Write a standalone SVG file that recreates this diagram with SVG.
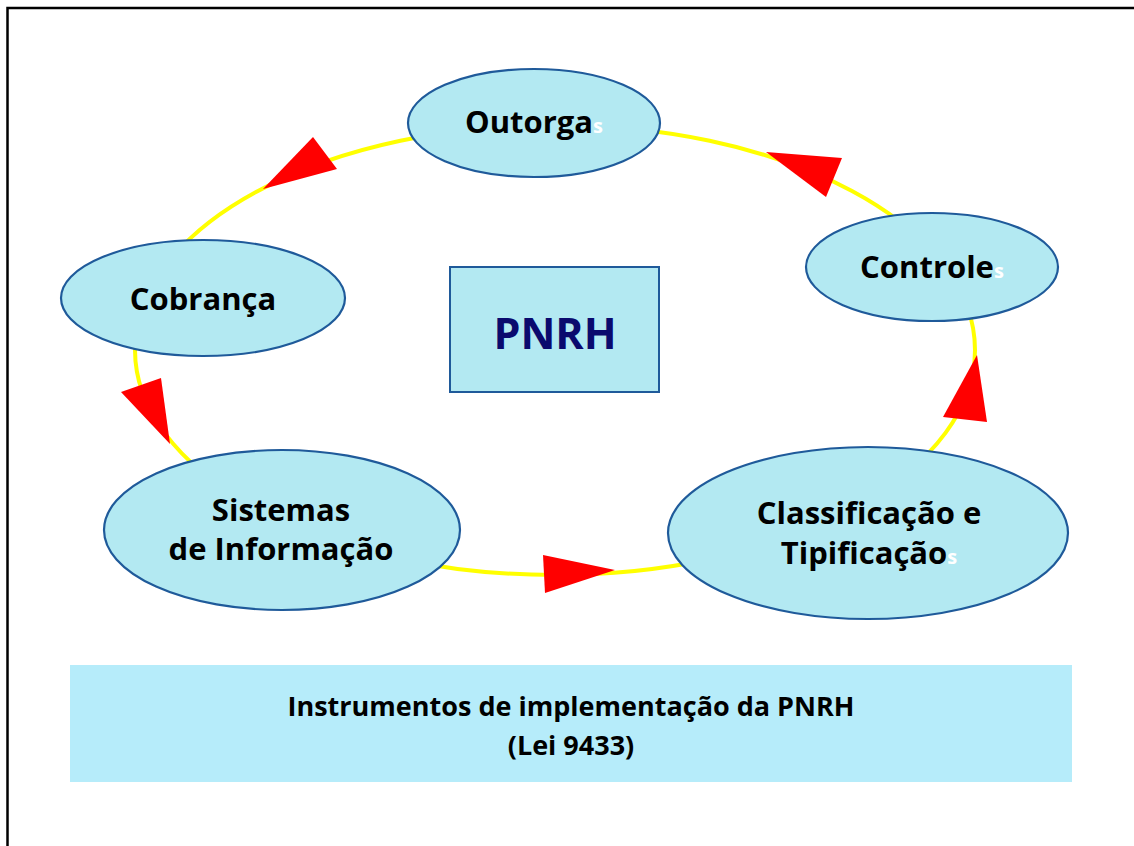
<svg xmlns="http://www.w3.org/2000/svg" width="1134" height="846" viewBox="0 0 1134 846">
<style>
.node{fill:#b3e9f2;stroke:#1f5a9a;stroke-width:2.2}
.lbl{font-family:"Open Sans","DejaVu Sans",sans-serif;font-weight:bold;font-size:31px;fill:#000;text-anchor:middle}
.ws{fill:#ffffff;font-size:20px}
.leg{font-size:27px}
.arr{fill:#ff0000}
</style>
<rect width="1134" height="846" fill="#fff"/>
<path d="M7.5,846 V8 H1134" fill="none" stroke="#000" stroke-width="2.5"/>
<g id="connectors">
<ellipse cx="555" cy="350" rx="420" ry="225" fill="none" stroke="#ffff00" stroke-width="4"/>
<polygon class="arr" points="263,189 313,137 337,169"/>
<polygon class="arr" points="766,152 842,158 826,197"/>
<polygon class="arr" points="977,355 943,417 987,422"/>
<polygon class="arr" points="615,570 543,555 545,593"/>
<polygon class="arr" points="170,444 121,392 161,378"/>
</g>
<g id="outorgas">
<ellipse class="node" cx="534" cy="123" rx="126" ry="54"/>
<text class="lbl" x="534" y="133">Outorga<tspan class="ws">s</tspan></text>
</g>
<g id="controles">
<ellipse class="node" cx="932" cy="267" rx="126" ry="54"/>
<text class="lbl" x="932" y="278">Controle<tspan class="ws">s</tspan></text>
</g>
<g id="cobranca">
<ellipse class="node" cx="203" cy="298" rx="142" ry="58"/>
<text class="lbl" x="203" y="310">Cobrança</text>
</g>
<g id="sistemas">
<ellipse class="node" cx="282" cy="530" rx="178" ry="80"/>
<text class="lbl" x="281" y="521">Sistemas</text>
<text class="lbl" x="281" y="560">de Informação</text>
</g>
<g id="classificacao">
<ellipse class="node" cx="868" cy="533" rx="200" ry="86"/>
<text class="lbl" x="869" y="524">Classificação e</text>
<text class="lbl" x="869" y="564">Tipificação<tspan class="ws">s</tspan></text>
</g>
<g id="pnrh">
<rect x="450" y="267" width="209" height="125" fill="#b3e9f2" stroke="#1f5a9a" stroke-width="2"/>
<text x="555" y="349" font-family="'Open Sans','DejaVu Sans',sans-serif" font-weight="bold" font-size="43" fill="#0a0a6e" text-anchor="middle">PNRH</text>
</g>
<g id="legenda">
<rect x="70" y="665" width="1002" height="117" fill="#b6ecfa"/>
<text class="lbl leg" x="571" y="716">Instrumentos de implementação da PNRH</text>
<text class="lbl leg" x="571" y="755">(Lei 9433)</text>
</g>
</svg>
